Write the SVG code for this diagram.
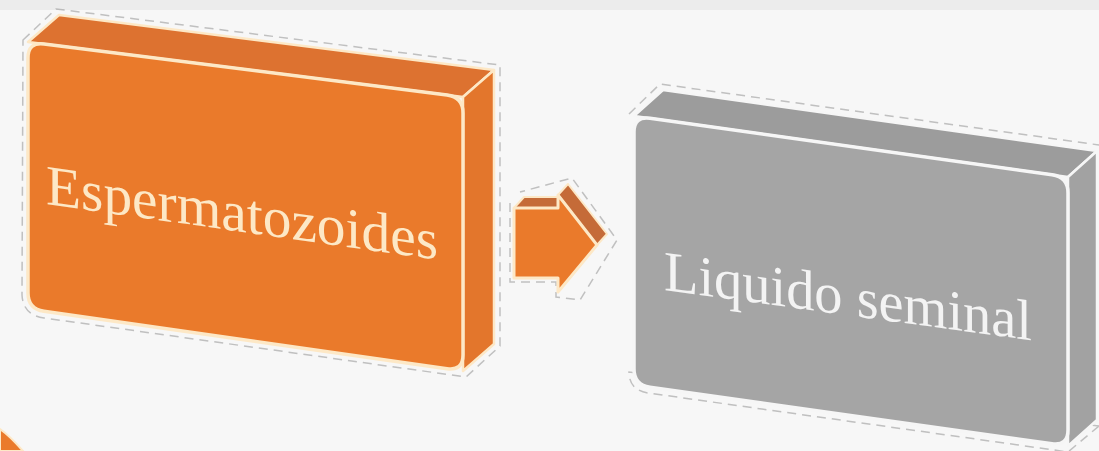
<svg xmlns="http://www.w3.org/2000/svg" width="1099" height="451" viewBox="0 0 1099 451">
  <style>
    .front-o { fill: #ea7a2b; stroke: #fde8c6; stroke-width: 3.5; stroke-linejoin: round; }
    .top-o { fill: #dd7230; stroke: #fde8c6; stroke-width: 2.5; stroke-linejoin: round; }
    .side-o { fill: #e3762c; stroke: #fde8c6; stroke-width: 2.5; stroke-linejoin: round; }
    .front-g { fill: #a5a5a5; stroke: #f6f6f6; stroke-width: 3.5; stroke-linejoin: round; }
    .top-g { fill: #9c9c9c; stroke: #f6f6f6; stroke-width: 2.5; stroke-linejoin: round; }
    .side-g { fill: #a2a2a2; stroke: #f6f6f6; stroke-width: 2.5; stroke-linejoin: round; }
    .dash { fill: none; stroke: #8a8a8a; stroke-opacity: 0.5; stroke-width: 1.5; stroke-dasharray: 9 6; }
    .arrow-top { fill: #c56b38; stroke: #fde8c6; stroke-width: 2; stroke-linejoin: round; }
    .label { font-family: "Liberation Serif", "DejaVu Serif", serif; font-size: 57px; }
  </style>
  <rect x="0" y="0" width="1099" height="451" fill="#f7f7f7"/>
  <rect x="0" y="0" width="1099" height="10" fill="#ececec"/>

  <!-- bottom-left fragment -->
  <g id="corner-fragment">
    <path d="M0,429 Q10,436 23,451 L0,451 Z" fill="#ea7a2b" stroke="#fde8c6" stroke-width="2"/>
  </g>

  <g id="node-espermatozoides">
    <path class="dash" d="M23,40 L56,9 L500,65 L500,346 L466,377 L44,318 Q23,315 22,295 Z"/>
    <polygon class="top-o" points="28,42 59,15 494,70 463,97"/>
    <polygon class="side-o" points="463,97 494,70 494,344 463,371"/>
    <path class="front-o" d="M28,58 Q28,42 44,44 L447,95 Q463,97 463,113 L463,355 Q463,371 447,368.7 L44,311.3 Q28,309 28,293 Z"/>
    <text class="label" fill="#fde8c6" transform="translate(46,204) skewY(8.1)" x="0" y="0" textLength="392" lengthAdjust="spacingAndGlyphs">Espermatozoides</text>
  </g>

  <g id="connectors">
    <path class="dash" d="M510,203 L510,282 L556,282 L556,297 L580,300 L617,240 L572,178 L520,192"/>
    <polygon class="arrow-top" points="514,208 524,197 568,197 558,208"/>
    <polygon class="arrow-top" points="558,195 568,184 607,234 597,245"/>
    <path fill="#ea7a2b" stroke="#fde8c6" stroke-width="3" stroke-linejoin="round" d="M514,208 L558,208 L558,195 L597,245 L558,292 L558,278 L514,278 Z"/>
  </g>

  <g id="node-liquido-seminal">
    <path class="dash" d="M629,114 L660,84 L1099,145 M1099,426 L1068,452 L648,393 Q629,390 629,372 Z"/>
    <polygon class="top-g" points="634,116 663,90 1097,151 1068,177"/>
    <polygon class="side-g" points="1068,177 1097,151 1097,420 1068,446"/>
    <path class="front-g" d="M634,132 Q634,116 650,118.2 L1052,174.8 Q1068,177 1068,193 L1068,430 Q1068,446 1052,443.8 L650,387.2 Q634,385 634,369 Z"/>
    <text class="label" fill="#f3f3f3" transform="translate(664,290) skewY(7.8)" x="0" y="0" textLength="368" lengthAdjust="spacingAndGlyphs">Liquido seminal</text>
  </g>
</svg>
